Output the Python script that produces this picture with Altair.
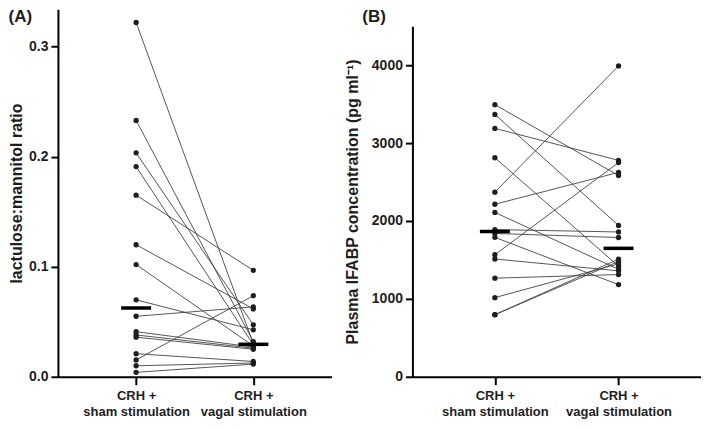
import altair as alt
import pandas as pd

# ---- data ----
categories = ["CRH +|sham stimulation", "CRH +|vagal stimulation"]

# Panel A: lactulose:mannitol ratio (paired, same index = same subject)
lm_sham = [0.322, 0.233, 0.2035, 0.191, 0.165, 0.120, 0.102, 0.0699,
           0.055, 0.041, 0.038, 0.036, 0.021, 0.0153, 0.010, 0.004]
lm_vagal = [0.030, 0.032, 0.0472, 0.029, 0.0967, 0.0617, 0.028, 0.0427,
            0.0635, 0.027, 0.026, 0.025, 0.0139, 0.0737, 0.0125, 0.0115]
lm_ticks = [0, 0.1, 0.2, 0.3]

# Panel B: plasma IFABP concentration (pg/ml)
ifabp_sham = [3494, 3368, 3189, 2812, 2370, 2215, 2110, 1890,
              1840, 1790, 1567, 1512, 1266, 1016, 797, 797]
ifabp_vagal = [2583, 1943, 2779, 1420, 3991, 2624, 1380, 1859,
               1788, 1183, 2750, 1360, 1312, 1450, 1480, 1510]
ifabp_ticks = [0, 1000, 2000, 3000, 4000]

FONT = "Liberation Sans"
INK = "#1e1e1e"
PLOT_H = 368


def long_table(sham, vagal):
    rows = []
    for i, (a, b) in enumerate(zip(sham, vagal)):
        rows.append({"pair": i, "condition": categories[0], "value": a})
        rows.append({"pair": i, "condition": categories[1], "value": b})
    return pd.DataFrame(rows)


def panel(df, ytitle, ticks, fmt, domain, yrange, width, label,
          title_dx, title_padding):
    x = alt.X(
        "condition:N",
        sort=categories,
        scale=alt.Scale(type="point", padding=0.667),
        axis=alt.Axis(
            title=None,
            labelExpr="split(datum.label, '|')",
            labelAngle=0,
            labelFontSize=13,
            labelLineHeight=16,
            labelPadding=5,
            tickSize=8,
        ),
    )
    yscale = alt.Scale(domain=domain, range=yrange, nice=False, zero=True)
    yaxis = alt.Axis(
        values=ticks,
        format=fmt,
        title=ytitle,
        titleFontSize=16,
        titlePadding=title_padding,
        labelFontSize=14,
        labelPadding=3,
        tickSize=7,
    )
    y = alt.Y("value:Q", scale=yscale, axis=yaxis, title=ytitle)
    ymed = alt.Y("value:Q", aggregate="median", scale=yscale, axis=yaxis,
                 title=ytitle)

    base = alt.Chart(df)
    lines = base.mark_line(color="#444444", strokeWidth=0.9).encode(
        x=x, y=y, detail="pair:N")
    pts = base.mark_circle(color=INK, size=28, opacity=1).encode(x=x, y=y)
    med = base.mark_tick(color="#000000", thickness=3.5, size=30).encode(
        x=x, y=ymed)
    return alt.layer(lines, pts, med).properties(
        width=width,
        height=PLOT_H,
        title=alt.TitleParams(
            text=label,
            anchor="start",
            frame="bounds",
            dx=title_dx,
            offset=-17,
            font=FONT,
            fontSize=17,
            fontWeight="bold",
            color=INK,
        ),
    )


panel_a = panel(long_table(lm_sham, lm_vagal), "lactulose:mannitol ratio",
                lm_ticks, ".1f", [0, 0.334], [PLOT_H, 0], 274, "(A)",
                0, 4)
panel_b = panel(long_table(ifabp_sham, ifabp_vagal),
                "Plasma IFABP concentration (pg ml\u207b\u00b9)",
                ifabp_ticks, "d", [0, 4500], [PLOT_H, 17], 289, "(B)",
                18, 11)

chart = alt.hconcat(panel_a, panel_b, spacing=12).properties(
    padding=0
).configure_view(stroke=None).configure_axis(
    grid=False,
    domainColor="#000000",
    domainWidth=2,
    tickColor="#000000",
    tickWidth=2,
    labelFont=FONT,
    labelFontWeight="bold",
    labelColor=INK,
    titleFont=FONT,
    titleFontWeight="bold",
    titleColor=INK,
)

chart.save("out.html", embed_options={"renderer": "svg", "actions": False})
